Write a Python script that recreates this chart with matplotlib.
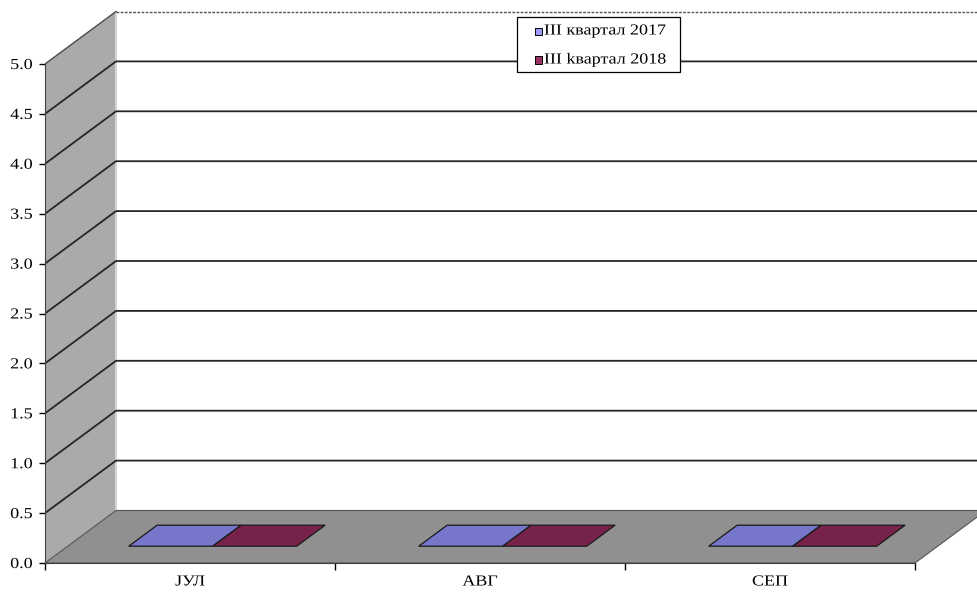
import matplotlib
matplotlib.use("Agg")
import matplotlib.pyplot as plt
from matplotlib.patches import Polygon, Rectangle
from matplotlib.patheffects import AbstractPathEffect
from matplotlib.transforms import Affine2D
from matplotlib.ticker import FixedLocator, NullFormatter, FixedFormatter

# ---- data -------------------------------------------------------------
months = ["ЈУЛ", "АВГ", "СЕП"]
series_names = ["III квартал 2017", "III kвартал 2018"]
values_2017 = [0.0, 0.0, 0.0]
values_2018 = [0.0, 0.0, 0.0]
y_ticks = [0.0, 0.5, 1.0, 1.5, 2.0, 2.5, 3.0, 3.5, 4.0, 4.5, 5.0]

series_values = [values_2017, values_2018]
series_top_colors = ["#7676CA", "#76224A"]
series_front_colors = ["#9999FF", "#993366"]
series_side_colors = ["#6363AA", "#5E1B3B"]
legend_colors = ["#9999FF", "#993366"]

plt.rcParams["font.family"] = ["Liberation Serif", "DejaVu Serif"]
FONT_SIZE = 11
STRETCH = 1.18


class HStretch(AbstractPathEffect):
    """Widen a text path horizontally about its left, right or centre edge."""

    def __init__(self, sx, anchor="center"):
        super().__init__()
        self.sx = sx
        self.anchor = anchor

    def draw_path(self, renderer, gc, tpath, affine, rgbFace=None):
        ext = tpath.get_extents(affine)
        if self.anchor == "right":
            cx = ext.x1
        elif self.anchor == "left":
            cx = ext.x0
        else:
            cx = 0.5 * (ext.x0 + ext.x1)
        t = affine + Affine2D().translate(-cx, 0).scale(self.sx, 1).translate(cx, 0)
        renderer.draw_path(gc, tpath, t, rgbFace)


W, H = 977, 597
fig = plt.figure(figsize=(W / 100, H / 100), dpi=100)

# front plane origin at (45, 563) px, 290 px per category, ~99.8 px per unit;
# depth offset of the 3-D box = (71, 52.5) px
CAT_PX, UNIT_PX = 290.0, 99.8
ax = fig.add_axes([45 / W, (H - 563) / H, (W - 45) / W, (563 - 4) / H])
ax.set_xlim(0, (W - 45) / CAT_PX)
ax.set_ylim(0, (563 - 4) / UNIT_PX)
ax.patch.set_visible(False)

DX = 71 / CAT_PX
DY = 52.5 / UNIT_PX
n = len(months)
ymax = y_ticks[-1]
xr = ax.get_xlim()[1] + 0.5

# side wall, back wall, floor
ax.add_patch(Polygon([(0, 0), (0, ymax), (DX, ymax + DY), (DX, DY)],
                     closed=True, facecolor="#AAAAAA", edgecolor="none", zorder=1))
ax.add_patch(Polygon([(DX, DY), (DX, ymax + DY), (xr, ymax + DY), (xr, DY)],
                     closed=True, facecolor="white", edgecolor="none", zorder=1))
ax.add_patch(Polygon([(0, 0), (n, 0), (n + DX, DY), (DX, DY)],
                     closed=True, facecolor="#909090", edgecolor="#555555",
                     linewidth=0.8, zorder=3))
# light strip along the corner between side and back wall
ax.plot([DX, DX], [DY, ymax + DY], color="#d4d4d4", lw=1.5, zorder=1.5)

# gridlines running across side wall and back wall
for v in y_ticks[1:-1]:
    ax.plot([0, DX, xr], [v, v + DY, v + DY], color="#262626", lw=1.3,
            solid_joinstyle="miter", zorder=2)
# top border of the walls
ax.plot([0, DX], [ymax, ymax + DY], color="#4a4a4a", lw=1.0, zorder=2)
ax.plot([DX, xr], [ymax + DY, ymax + DY], color="#555555", lw=1.0,
        linestyle=(0, (2, 1)), zorder=2)

# bars as 3-D boxes (front face, side face, top face)
bar_w = 84 / CAT_PX
d0, d1 = 0.32, 0.72
group_left = 0.5 - bar_w * len(series_values) / 2
for j, vals in enumerate(series_values):
    for i, v in enumerate(vals):
        x0 = i + group_left + j * bar_w
        x1 = x0 + bar_w
        ox0, oy0 = d0 * DX, d0 * DY
        ox1, oy1 = d1 * DX, d1 * DY
        if v > 0:
            ax.add_patch(Polygon([(x0 + ox0, oy0), (x1 + ox0, oy0),
                                  (x1 + ox0, v + oy0), (x0 + ox0, v + oy0)],
                                 closed=True, facecolor=series_front_colors[j],
                                 edgecolor="black", linewidth=0.8, zorder=4))
            ax.add_patch(Polygon([(x1 + ox0, oy0), (x1 + ox1, oy1),
                                  (x1 + ox1, v + oy1), (x1 + ox0, v + oy0)],
                                 closed=True, facecolor=series_side_colors[j],
                                 edgecolor="black", linewidth=0.8, zorder=4))
        ax.add_patch(Polygon([(x0 + ox0, v + oy0), (x1 + ox0, v + oy0),
                              (x1 + ox1, v + oy1), (x0 + ox1, v + oy1)],
                             closed=True, facecolor=series_top_colors[j],
                             edgecolor="#1a1a1a", linewidth=0.9, zorder=5))

# axes: value axis on the front-left edge, category axis along the floor front
for s in ["top", "right"]:
    ax.spines[s].set_visible(False)
ax.spines["left"].set_bounds(0, ymax)
ax.spines["left"].set_color("#404040")
ax.spines["left"].set_linewidth(0.8)
ax.spines["left"].set_linestyle((0, (2, 1)))
ax.spines["bottom"].set_bounds(0, n)
ax.spines["bottom"].set_color("#404040")
ax.spines["bottom"].set_linewidth(0.8)
ax.spines["left"].set_zorder(6)
ax.spines["bottom"].set_zorder(6)

ax.set_yticks(y_ticks)
ax.set_yticklabels([f"{t:.1f}" for t in y_ticks])
ax.tick_params(axis="y", direction="out", length=4, width=1, pad=5,
               labelsize=FONT_SIZE, colors="black")

ax.xaxis.set_major_locator(FixedLocator(list(range(n + 1))))
ax.xaxis.set_major_formatter(NullFormatter())
ax.xaxis.set_minor_locator(FixedLocator([i + 0.5 for i in range(n)]))
ax.xaxis.set_minor_formatter(FixedFormatter(months))
ax.tick_params(axis="x", which="major", direction="out", length=5, width=1)
ax.tick_params(axis="x", which="minor", length=0, pad=9, labelsize=FONT_SIZE)

for lab in ax.get_yticklabels():
    lab.set_path_effects([HStretch(STRETCH, "right")])
for lab in ax.get_xticklabels(minor=True):
    lab.set_path_effects([HStretch(STRETCH, "center")])

# legend box in figure pixel coordinates
px = fig.transFigure.inverted()


def fpx(x, y):
    return px.transform((x, H - y))


lx0, ly0, lx1, ly1 = 517, 17, 680, 72
(bx, by) = fpx(lx0, ly1)
(bx2, by2) = fpx(lx1, ly0)
fig.patches.append(Rectangle((bx, by), bx2 - bx, by2 - by, transform=fig.transFigure,
                             facecolor="white", edgecolor="black", linewidth=0.9,
                             zorder=10))
row_y = [31, 60]
for k, (name, col) in enumerate(zip(series_names, legend_colors)):
    sx, sy = fpx(535, row_y[k] + 3.5)
    sx2, sy2 = fpx(542, row_y[k] - 3.5)
    fig.patches.append(Rectangle((sx, sy), sx2 - sx, sy2 - sy, transform=fig.transFigure,
                                 facecolor=col, edgecolor="black", linewidth=0.7,
                                 zorder=11))
    tx, ty = fpx(544, row_y[k])
    fig.text(tx, ty, name, ha="left", va="center", fontsize=FONT_SIZE, zorder=12,
             path_effects=[HStretch(STRETCH, "left")])

fig.savefig("out.png", dpi=100)
